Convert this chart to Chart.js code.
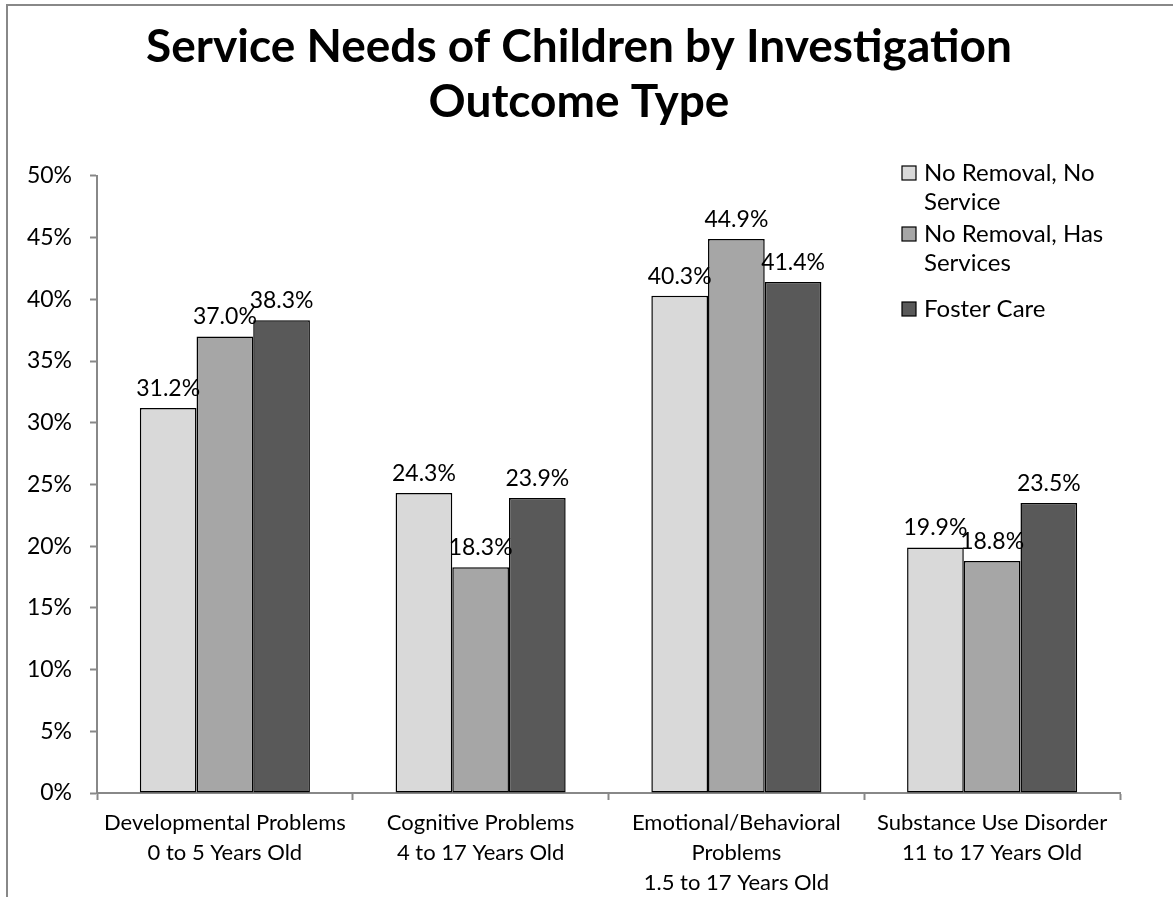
<!DOCTYPE html>
<html>
<head>
<meta charset="utf-8">
<script src="https://cdn.jsdelivr.net/npm/chart.js@4/dist/chart.umd.min.js"></script>
<style>
  html, body { margin: 0; padding: 0; background: #fff; overflow: hidden; }
  #frame {
    position: absolute; left: 6px; top: 4px; right: -10px; bottom: -10px;
    border: 2px solid #888;
  }
  #wrap { position: absolute; left: 0; top: 0; width: 1173px; height: 897px; }
</style>
</head>
<body>
<div id="frame"></div>
<div id="wrap"><canvas id="needsChart" width="1173" height="897"></canvas></div>
<script>
// Service needs by outcome type, percent of children
const categories = [
    ["Developmental Problems", "0 to 5 Years Old"],
    ["Cognitive Problems", "4 to 17 Years Old"],
    ["Emotional/Behavioral", "Problems", "1.5 to 17 Years Old"],
    ["Substance Use Disorder", "11 to 17 Years Old"]
];
const seriesNames = ["No Removal, No Service", "No Removal, Has Services", "Foster Care"];
const legendLines = [["No Removal, No", "Service"], ["No Removal, Has", "Services"], ["Foster Care"]];
const noRemovalNoService = [31.2, 24.3, 40.3, 19.9];
const noRemovalHasServices = [37.0, 18.3, 44.9, 18.8];
const fosterCare = [38.3, 23.9, 41.4, 23.5];
const yTicks = [0, 5, 10, 15, 20, 25, 30, 35, 40, 45, 50];

const FONT = "Lato";
const colors = ["#d9d9d9", "#a6a6a6", "#595959"];

function makeSet(i, values) {
    return {
        label: seriesNames[i],
        data: values,
        backgroundColor: colors[i],
        borderColor: "#000",
        borderWidth: 1.5,
        borderSkipped: false,
        categoryPercentage: 0.665,
        barPercentage: 1.0
    };
}

// value labels above each bar
const valueLabels = {
    id: "valueLabels",
    afterDatasetsDraw(chart) {
        const ctx = chart.ctx;
        ctx.save();
        ctx.font = "23px " + FONT;
        ctx.fillStyle = "#000";
        ctx.textAlign = "center";
        ctx.textBaseline = "bottom";
        chart.data.datasets.forEach((ds, i) => {
            chart.getDatasetMeta(i).data.forEach((bar, j) => {
                ctx.fillText(ds.data[j].toFixed(1) + "%", bar.x, bar.y - 8);
            });
        });
        ctx.restore();
    }
};

// legend in the upper right, wrapped over two lines
const sideLegend = {
    id: "sideLegend",
    afterDraw(chart) {
        const ctx = chart.ctx;
        const tops = [173, 234, 309];
        ctx.save();
        ctx.font = "24px " + FONT;
        ctx.textBaseline = "middle";
        ctx.textAlign = "left";
        chart.data.datasets.forEach((ds, i) => {
            const y = tops[i];
            ctx.fillStyle = ds.backgroundColor;
            ctx.fillRect(902, y - 7, 14, 14);
            ctx.strokeStyle = "#000";
            ctx.lineWidth = 1.2;
            ctx.strokeRect(902, y - 7, 14, 14);
            ctx.fillStyle = "#000";
            legendLines[i].forEach((line, k) => ctx.fillText(line, 924, y + k * 29));
        });
        ctx.restore();
    }
};

// center the title a little right of the canvas middle
const titleShift = {
    id: "titleShift",
    afterLayout(chart) {
        if (chart.titleBlock) chart.titleBlock.left = 38;
    }
};

new Chart(document.getElementById("needsChart"), {
    type: "bar",
    data: {
        labels: categories,
        datasets: [
            makeSet(0, noRemovalNoService),
            makeSet(1, noRemovalHasServices),
            makeSet(2, fosterCare)
        ]
    },
    options: {
        responsive: false,
        animation: false,
        layout: { padding: { left: 0, right: 53, top: 0, bottom: 0 } },
        plugins: {
            legend: { display: false },
            tooltip: { enabled: false },
            title: {
                display: true,
                text: ["Service Needs of Children by Investigation", "Outcome Type"],
                color: "#000",
                font: { family: FONT, size: 46, weight: "bold", lineHeight: 1.195 },
                padding: { top: 20, bottom: 46 }
            }
        },
        scales: {
            x: {
                offset: true,
                grid: {
                    offset: true,
                    drawOnChartArea: false,
                    color: "#888",
                    tickLength: 7,
                    tickWidth: 2
                },
                border: { color: "#888", width: 2 },
                ticks: {
                    color: "#000",
                    font: { family: FONT, size: 22, lineHeight: 1.36 },
                    padding: 8,
                    maxRotation: 0,
                    autoSkip: false
                },
                afterFit(scale) { scale.height = 897 - 793; }
            },
            y: {
                min: 0,
                max: 50,
                afterBuildTicks(scale) { scale.ticks = yTicks.map(v => ({ value: v })); },
                grid: {
                    drawOnChartArea: false,
                    color: "#888",
                    tickLength: 7,
                    tickWidth: 2
                },
                border: { color: "#888", width: 2 },
                ticks: {
                    color: "#000",
                    font: { family: FONT, size: 23 },
                    padding: 18,
                    callback: v => v + "%"
                },
                afterFit(scale) { scale.width = 97; }
            }
        }
    },
    plugins: [valueLabels, sideLegend, titleShift]
});
</script>
</body>
</html>
